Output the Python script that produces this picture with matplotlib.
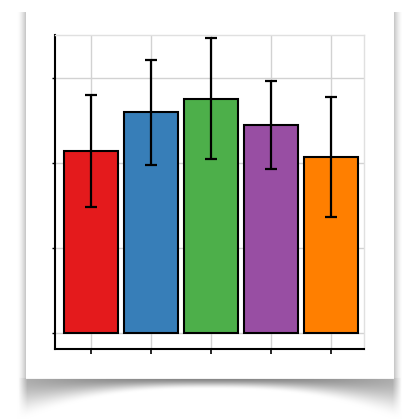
import matplotlib
matplotlib.use("Agg")
import matplotlib.pyplot as plt
import numpy as np

# bar data (axis has no labels)
groups = ["A", "B", "C", "D", "E"]
values = [2.14, 2.60, 2.76, 2.45, 2.07]
errors = [0.66, 0.62, 0.71, 0.52, 0.71]
colors = ["#e41a1c", "#377eb8", "#4daf4a", "#984ea3", "#ff7f00"]
yticks = [0, 1, 2, 3]

W, H = 410, 419
fig = plt.figure(figsize=(W / 100, H / 100), dpi=100)
fig.patch.set_facecolor("white")

# --- paper card with curled drop shadow (background image) ---
card_l, card_r, card_t, card_b = 26, 393, 5, 378
yy, xx = np.mgrid[0:H, 0:W].astype(float)
dark = np.zeros((H, W))

# side shadows
left_d = np.clip((card_l - xx) / 9.0, 0, 1)
right_d = np.clip((xx - card_r) / 9.0, 0, 1)
in_rows = (yy >= card_t + 8) & (yy <= card_b + 5)
side = np.where((xx < card_l) & in_rows, 0.25 * (1 - left_d) ** 1.5, 0)
side += np.where((xx > card_r) & in_rows, 0.25 * (1 - right_d) ** 1.5, 0)
dark = np.maximum(dark, side)

# bottom curl shadow: thin in the middle, deep towards the corners
cx, half = (card_l + card_r) / 2, (card_r - card_l) / 2
u = np.abs(xx - cx) / half
depth = 11 + 30 * np.clip(u, 0, 1.2) ** 2.5
t = np.clip((yy - card_b) / depth, 0, 1)
fall = 1 - (3 * t ** 2 - 2 * t ** 3)
amp = 0.48 - 0.16 * np.clip(u, 0, 1) ** 2
curl = np.where(yy >= card_b, amp * fall, 0)
curl *= np.clip((1.045 - u) / 0.05, 0, 1)
dark = np.maximum(dark, curl)

card = (xx >= card_l) & (xx <= card_r) & (yy >= card_t) & (yy <= card_b)
dark[card] = 0
bg = np.dstack([1 - dark] * 3)

bg_ax = fig.add_axes([0, 0, 1, 1], zorder=-10)
bg_ax.imshow(bg, extent=(0, W, H, 0), aspect="auto", interpolation="bilinear")
bg_ax.set_xlim(0, W)
bg_ax.set_ylim(H, 0)
bg_ax.axis("off")

# --- the bar chart ---
ax_l, ax_r, ax_t, ax_b = 55, 364, 35, 349
ax = fig.add_axes([ax_l / W, (H - ax_b) / H, (ax_r - ax_l) / W, (ax_b - ax_t) / H])
ax.set_facecolor("none")

x = np.arange(len(groups))
ax.bar(x, values, width=0.9, color=colors, edgecolor="black", linewidth=1.5, zorder=2)
ax.errorbar(x, values, yerr=errors, fmt="none", ecolor="black", elinewidth=1.6,
            capsize=4.5, capthick=1.6, zorder=3)

ax.set_xlim(-0.6, 4.55)
ax.set_ylim(-0.19, 3.51)
ax.set_xticks(x)
ax.set_yticks(yticks)
ax.set_xticklabels([])
ax.set_yticklabels([])
ax.grid(True, color="#d2d2d2", linewidth=1.0, zorder=0)
ax.set_axisbelow(True)
ax.tick_params(axis="x", direction="out", length=3.5, width=1.2, color="black")
ax.tick_params(axis="y", direction="out", length=2.5, width=1.0, color="black")

for side_name in ["left", "bottom"]:
    ax.spines[side_name].set_color("black")
    ax.spines[side_name].set_linewidth(1.5)
for side_name in ["top", "right"]:
    ax.spines[side_name].set_color("#e0e0e0")
    ax.spines[side_name].set_linewidth(1.0)

plt.savefig("out.png", dpi=100)
